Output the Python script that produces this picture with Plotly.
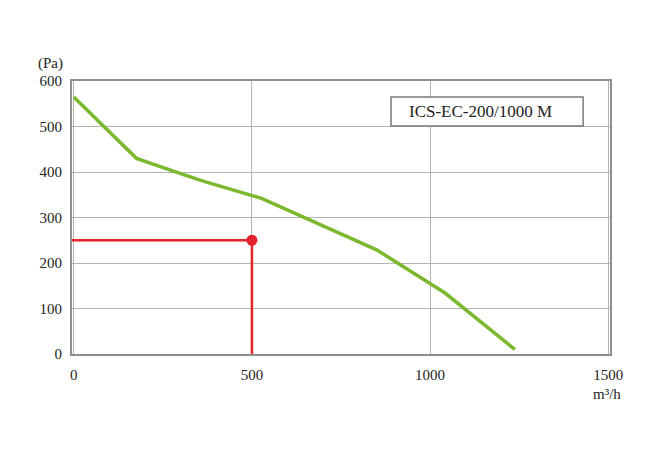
import plotly.graph_objects as go

# Fan curve data (m3/h vs Pa)
flow = [0, 176, 298, 363, 527, 850, 1042, 1238]
pressure = [565, 430, 397, 380, 342, 229, 134, 10]

# Operating point
op_flow = 500
op_pressure = 250

x_ticks = [0, 500, 1000, 1500]
y_ticks = [0, 100, 200, 300, 400, 500, 600]
model_label = "ICS-EC-200/1000 M"

FONT = "Liberation Serif"
GREEN = "#7cb82f"
RED = "#e3232b"
GRID = "#b4b4b4"
BORDER = "#8f8f8f"

fig = go.Figure()

# Operating point lines
fig.add_trace(go.Scatter(
    x=[-5, op_flow, op_flow], y=[op_pressure, op_pressure, 0],
    mode="lines", line=dict(color=RED, width=2.5), hoverinfo="skip", showlegend=False))
fig.add_trace(go.Scatter(
    x=flow, y=pressure, mode="lines",
    line=dict(color=GREEN, width=3.5), showlegend=False))
fig.add_trace(go.Scatter(
    x=[op_flow], y=[op_pressure], mode="markers",
    marker=dict(color=RED, size=11), showlegend=False))

fig.update_layout(
    width=666, height=463,
    margin=dict(l=64, r=64, t=73, b=117),
    paper_bgcolor="white", plot_bgcolor="white",
    font=dict(family=FONT, size=15, color="#222222"),
    xaxis=dict(range=[-5, 1505], tickvals=x_ticks, showgrid=True, gridcolor=GRID,
               gridwidth=1, zeroline=False, showline=True, linecolor=BORDER,
               linewidth=2, mirror=True, ticks="", ticklabelstandoff=6),
    yaxis=dict(range=[0, 600], tickvals=y_ticks, showgrid=True, gridcolor=GRID,
               gridwidth=1, zeroline=False, showline=True, linecolor=BORDER,
               linewidth=2, mirror=True, ticks="", ticklabelstandoff=5),
    shapes=[dict(type="rect", xref="paper", yref="paper",
                 x0=0.593, x1=0.950, y0=0.835, y1=0.941,
                 line=dict(color="#7a7a7a", width=1.5), fillcolor="white")],
    annotations=[
        dict(text=model_label, xref="paper", yref="paper", x=0.760, y=0.888,
             showarrow=False, font=dict(family=FONT, size=17, color="#222222"),
             xanchor="center", yanchor="middle"),
        dict(text="(Pa)", xref="paper", yref="paper", x=-0.04, y=1.065,
             showarrow=False, font=dict(family=FONT, size=15, color="#222222"),
             xanchor="center", yanchor="middle"),
        dict(text="m³/h", xref="paper", yref="paper", x=0.995, y=-0.145,
             showarrow=False, font=dict(family=FONT, size=15, color="#222222"),
             xanchor="center", yanchor="middle"),
    ],
)

fig.write_html("out.html")
